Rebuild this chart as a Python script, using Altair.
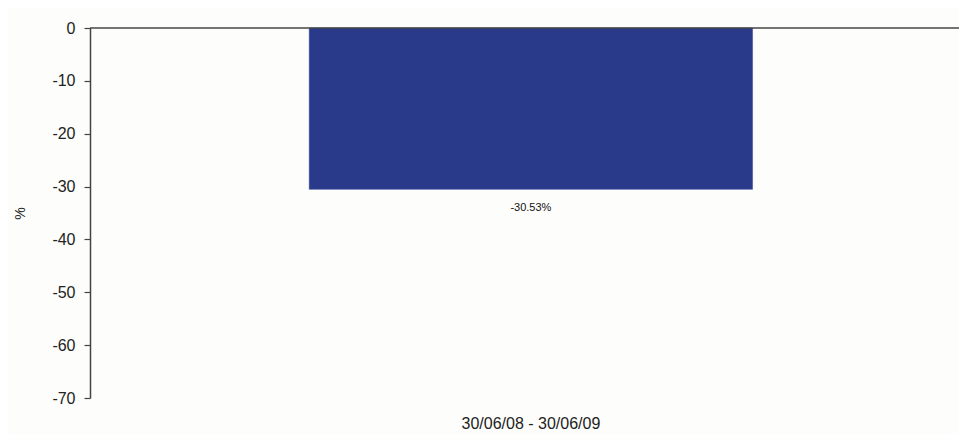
import altair as alt
import pandas as pd

categories = ["30/06/08 - 30/06/09"]
values = [-30.53]
labels = ["-30.53%"]

df = pd.DataFrame({"period": categories, "value": values, "label": labels})

FONT = "Liberation Sans"

base = alt.Chart(df)

x_enc = alt.X(
    "period:N",
    title=None,
    scale=alt.Scale(paddingInner=0, paddingOuter=0.48, align=0.515),
    axis=alt.Axis(
        domain=False, ticks=False, labelAngle=0, labelFontSize=16,
        labelColor="#222", labelFont=FONT, labelPadding=17,
    ),
)

y_enc = alt.Y(
    "value:Q",
    title="%",
    scale=alt.Scale(domain=[-70, 0], nice=False),
    axis=alt.Axis(
        values=[0, -10, -20, -30, -40, -50, -60, -70],
        labelExpr="toString(datum.value)",
        grid=False, domainColor="#444", domainWidth=1.5, tickColor="#444",
        tickSize=6, tickWidth=1.2, labelFontSize=16, labelColor="#222",
        labelFont=FONT, labelPadding=9, titleFont=FONT, titleFontSize=14,
        titleFontWeight="normal", titleColor="#222", titlePadding=24,
    ),
)

bars = base.mark_bar(color="#2a3a8b", stroke="#3a4a9a", strokeWidth=0.5).encode(x=x_enc, y=y_enc)

text = base.mark_text(
    baseline="top", dy=13, fontSize=11, font=FONT, color="#111"
).encode(x="period:N", y="value:Q", text="label:N")

zero = alt.Chart(pd.DataFrame({"z": [0]})).mark_rule(color="#444", strokeWidth=1.5).encode(y="z:Q")

chart = (
    alt.layer(bars, text, zero)
    .properties(
        width=869,
        height=370,
        autosize=alt.AutoSizeParams(type="none"),
        padding={"left": 82, "top": 20, "right": 0, "bottom": 37},
        background="#fdfdfb",
    )
    .configure_view(stroke=None)
)

chart.save("out.html", embed_options={"renderer": "svg", "actions": False})
